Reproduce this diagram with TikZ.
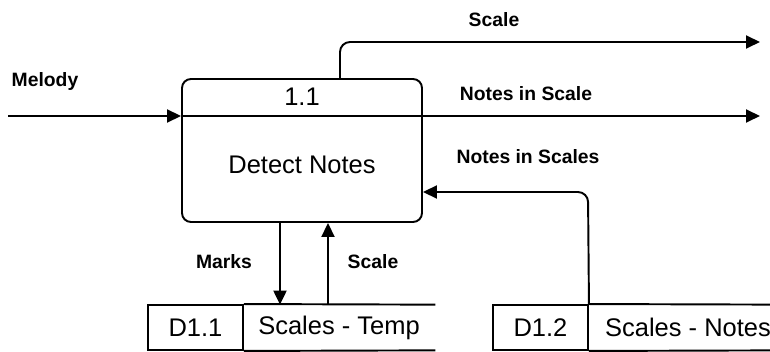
\documentclass[tikz,border=0pt]{standalone}
\usepackage{fontspec}
\setmainfont{Liberation Sans}
\usepackage{tikz}
\usetikzlibrary{arrows.meta,positioning,calc}

\begin{document}
\begin{tikzpicture}[
    proc/.style={rectangle, draw, line width=1.1pt, rounded corners=0.18cm, minimum width=4.8cm, minimum height=2.86cm, inner sep=0pt},
    bigtext/.style={inner sep=1pt, font=\fontsize{14.5}{16}\selectfont},
    storeid/.style={rectangle, draw, line width=1.1pt, minimum width=1.9cm, minimum height=0.9cm, inner sep=0pt, font=\fontsize{14.5}{16}\selectfont},
    storename/.style={rectangle, minimum height=0.9cm, inner sep=0pt, font=\fontsize{14.5}{16}\selectfont},
    flowlabel/.style={inner sep=1pt, font=\fontsize{11}{13}\selectfont\bfseries},
    line/.style={line width=1.1pt},
    arrow/.style={-{Triangle[length=0.28cm, width=0.26cm]}, line width=1.1pt}
]
\useasboundingbox (0,0) rectangle (15.4,7.04);

% process 1.1
\node[proc] (detect) at (6.04,4.03) {};
\node[bigtext] (pid) at (6.04,5.10) {1.1};
\node[bigtext] (pname) at (6.04,3.74) {Detect Notes};
\coordinate (hdr) at (0,4.72);
\draw[line] (detect.west |- hdr) -- (detect.east |- hdr);

% data stores
\node[storeid] (d1) at (3.91,0.49) {D1.1};
\node[storename, minimum width=3.84cm] (t1) at (6.78,0.49) {Scales - Temp};
\draw[line] (d1.north east) -- (t1.north east);
\draw[line] (d1.south east) -- (t1.south east);
\node[storeid] (d2) at (10.81,0.49) {D1.2};
\node[storename, minimum width=4.0cm] (t2) at (13.76,0.49) {Scales - Notes};
\draw[line] (d2.north east) -- (t2.north east);
\draw[line] (d2.south east) -- (t2.south east);

% flows
\coordinate (melin) at (0.16,4.72);
\draw[arrow] (melin) -- (detect.west |- melin);
\node[flowlabel] (lmel) at (0.90,5.40) {Melody};

\coordinate (nsout) at (15.2,4.72);
\draw[arrow] (detect.east |- nsout) -- (nsout);
\node[flowlabel] (lnsout) at (10.52,5.16) {Notes in Scale};

\coordinate (scbend) at (6.80,6.20);
\coordinate (scout) at (15.2,6.20);
\draw[arrow, rounded corners=0.2cm] (detect.north -| scbend) -- (scbend) -- (scout);
\node[flowlabel] (lscout) at (9.88,6.64) {Scale};

\coordinate (nsbend) at (11.76,3.20);
\draw[arrow, rounded corners=0.2cm] (d2.north east) -- (nsbend) -- (detect.east |- nsbend);
\node[flowlabel] (lnsin) at (10.56,3.90) {Notes in Scales};

\coordinate (mkx) at (5.60,0);
\draw[arrow] (detect.south -| mkx) -- (t1.north -| mkx);
\node[flowlabel] (lmk) at (4.48,1.80) {Marks};
\coordinate (scx) at (6.56,0);
\draw[arrow] (t1.north -| scx) -- (detect.south -| scx);
\node[flowlabel] (lscin) at (7.46,1.80) {Scale};
\end{tikzpicture}
\end{document}
